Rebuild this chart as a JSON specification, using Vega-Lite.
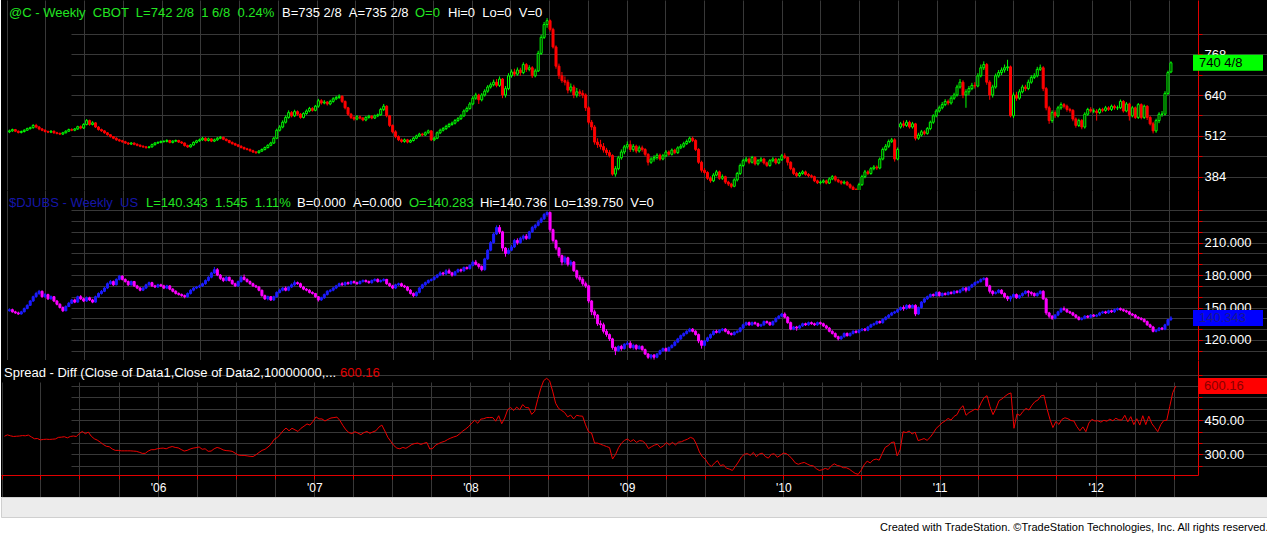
{
"$schema":"https://vega.github.io/schema/vega-lite/v6.json",
"background":"#ffffff",
"padding":0,
"spacing":0,
"bounds":"flush",
"config":{"view":{"stroke":null},"font":"Liberation Sans","concat":{"spacing":0},"axis":{"labelOverlap":false,"labelFlush":false}},
"title":{"text":"Created with TradeStation. ©TradeStation Technologies, Inc. All rights reserved.","orient":"bottom","anchor":"end","font":"Liberation Sans Narrow, Arial Narrow, Liberation Sans","fontSize":11,"fontWeight":"normal","color":"#000000","offset":4},
"datasets":{"w":[
{"d":"2005-01-07","o":525,"h":532,"l":521,"c":528,"O":147,"H":149.3,"L":146.2,"C":148,"s":380},
{"d":"2005-01-14","o":528,"h":535,"l":525,"c":532,"O":148,"H":149,"L":145.2,"C":146,"s":386},
{"d":"2005-01-21","o":532,"h":534,"l":524,"c":527,"O":146,"H":147,"L":144.1,"C":145,"s":382},
{"d":"2005-01-28","o":527,"h":529,"l":520,"c":523,"O":145,"H":146.2,"L":143.2,"C":144,"s":379},
{"d":"2005-02-04","o":523,"h":529,"l":520,"c":526,"O":144,"H":147,"L":143.5,"C":146,"s":380},
{"d":"2005-02-11","o":526,"h":533,"l":523,"c":530,"O":146,"H":150,"L":145.5,"C":149,"s":381},
{"d":"2005-02-18","o":530,"h":538,"l":528,"c":535,"O":149,"H":153,"L":148.4,"C":152,"s":383},
{"d":"2005-02-25","o":535,"h":541,"l":532,"c":538,"O":152,"H":157,"L":151.5,"C":156,"s":382},
{"d":"2005-03-04","o":538,"h":549,"l":535,"c":545,"O":156,"H":161,"L":155.2,"C":160,"s":385},
{"d":"2005-03-11","o":545,"h":550,"l":536,"c":540,"O":160,"H":164.5,"L":159,"C":163,"s":377},
{"d":"2005-03-18","o":540,"h":543,"l":530,"c":534,"O":163,"H":166.3,"L":161.5,"C":165,"s":369},
{"d":"2005-03-25","o":534,"h":537,"l":527,"c":530,"O":165,"H":165.8,"L":159,"C":160,"s":370},
{"d":"2005-04-01","o":530,"h":533,"l":523,"c":526,"O":160,"H":163.5,"L":158.8,"C":162,"s":364},
{"d":"2005-04-08","o":526,"h":529,"l":521,"c":524,"O":162,"H":162.8,"L":157,"C":158,"s":366},
{"d":"2005-04-15","o":524,"h":530,"l":521,"c":527,"O":158,"H":161.2,"L":157.3,"C":160,"s":367},
{"d":"2005-04-22","o":527,"h":529,"l":519,"c":522,"O":160,"H":160.6,"L":155,"C":156,"s":366},
{"d":"2005-04-29","o":522,"h":525,"l":517,"c":520,"O":156,"H":157,"L":152,"C":153,"s":367},
{"d":"2005-05-06","o":520,"h":523,"l":515,"c":518,"O":153,"H":154,"L":149,"C":150,"s":368},
{"d":"2005-05-13","o":518,"h":525,"l":515,"c":522,"O":150,"H":151,"L":145.8,"C":147,"s":375},
{"d":"2005-05-20","o":522,"h":530,"l":520,"c":527,"O":147,"H":152,"L":146.5,"C":151,"s":376},
{"d":"2005-05-27","o":527,"h":535,"l":525,"c":532,"O":151,"H":155.2,"L":150.4,"C":154,"s":378},
{"d":"2005-06-03","o":532,"h":536,"l":527,"c":530,"O":154,"H":158,"L":153.2,"C":157,"s":373},
{"d":"2005-06-10","o":530,"h":537,"l":527,"c":534,"O":157,"H":158.2,"L":154,"C":155,"s":379},
{"d":"2005-06-17","o":534,"h":544,"l":531,"c":541,"O":155,"H":161,"L":154.5,"C":160,"s":381},
{"d":"2005-06-24","o":541,"h":545,"l":533,"c":537,"O":160,"H":161.5,"L":157,"C":158,"s":379},
{"d":"2005-07-01","o":537,"h":552,"l":534,"c":548,"O":158,"H":159,"L":155,"C":156,"s":392},
{"d":"2005-07-08","o":548,"h":565,"l":545,"c":560,"O":156,"H":160.2,"L":155.2,"C":159,"s":401},
{"d":"2005-07-15","o":560,"h":563,"l":544,"c":548,"O":159,"H":160,"L":156,"C":157,"s":391},
{"d":"2005-07-22","o":548,"h":558,"l":545,"c":553,"O":157,"H":158,"L":154,"C":155,"s":398},
{"d":"2005-07-29","o":553,"h":555,"l":537,"c":540,"O":155,"H":161,"L":154.5,"C":160,"s":380},
{"d":"2005-08-05","o":540,"h":543,"l":529,"c":532,"O":160,"H":164,"L":159,"C":163,"s":369},
{"d":"2005-08-12","o":532,"h":535,"l":525,"c":528,"O":163,"H":166.2,"L":162,"C":165,"s":363},
{"d":"2005-08-19","o":528,"h":530,"l":519,"c":522,"O":165,"H":169,"L":164.2,"C":168,"s":354},
{"d":"2005-08-26","o":522,"h":524,"l":513,"c":516,"O":168,"H":173.2,"L":167,"C":172,"s":344},
{"d":"2005-09-02","o":516,"h":518,"l":507,"c":510,"O":172,"H":175.5,"L":171,"C":174,"s":336},
{"d":"2005-09-09","o":510,"h":512,"l":502,"c":505,"O":174,"H":175,"L":170,"C":171,"s":334},
{"d":"2005-09-16","o":505,"h":508,"l":497,"c":500,"O":171,"H":177,"L":170.5,"C":176,"s":324},
{"d":"2005-09-23","o":500,"h":503,"l":494,"c":497,"O":176,"H":180.2,"L":175,"C":179,"s":318},
{"d":"2005-09-30","o":497,"h":500,"l":491,"c":494,"O":179,"H":179.8,"L":175,"C":176,"s":318},
{"d":"2005-10-07","o":494,"h":497,"l":487,"c":490,"O":176,"H":177,"L":173,"C":174,"s":316},
{"d":"2005-10-14","o":490,"h":493,"l":484,"c":487,"O":174,"H":175,"L":170,"C":171,"s":316},
{"d":"2005-10-21","o":487,"h":493,"l":484,"c":490,"O":171,"H":175,"L":170.2,"C":174,"s":316},
{"d":"2005-10-28","o":490,"h":492,"l":483,"c":486,"O":174,"H":174.6,"L":169,"C":170,"s":316},
{"d":"2005-11-04","o":486,"h":489,"l":480,"c":483,"O":170,"H":171,"L":167,"C":168,"s":315},
{"d":"2005-11-11","o":483,"h":486,"l":477,"c":480,"O":168,"H":169,"L":165,"C":166,"s":314},
{"d":"2005-11-18","o":480,"h":483,"l":475,"c":478,"O":166,"H":169,"L":165.2,"C":168,"s":310},
{"d":"2005-11-25","o":478,"h":481,"l":472,"c":476,"O":168,"H":172,"L":167,"C":171,"s":305},
{"d":"2005-12-02","o":476,"h":481,"l":473,"c":478,"O":171,"H":174,"L":170,"C":173,"s":305},
{"d":"2005-12-09","o":478,"h":488,"l":476,"c":485,"O":173,"H":173.8,"L":169,"C":170,"s":315},
{"d":"2005-12-16","o":485,"h":493,"l":482,"c":490,"O":170,"H":171,"L":168,"C":169,"s":321},
{"d":"2005-12-23","o":490,"h":495,"l":487,"c":492,"O":169,"H":172,"L":168.2,"C":171,"s":321},
{"d":"2005-12-30","o":492,"h":498,"l":489,"c":495,"O":171,"H":172,"L":169,"C":170,"s":325},
{"d":"2006-01-06","o":495,"h":499,"l":491,"c":495,"O":170,"H":171,"L":167,"C":168,"s":327},
{"d":"2006-01-13","o":495,"h":502,"l":492,"c":498,"O":168,"H":171,"L":167,"C":170,"s":328},
{"d":"2006-01-20","o":498,"h":500,"l":489,"c":492,"O":170,"H":170.5,"L":166,"C":167,"s":325},
{"d":"2006-01-27","o":492,"h":499,"l":489,"c":496,"O":167,"H":168,"L":164,"C":165,"s":331},
{"d":"2006-02-03","o":496,"h":501,"l":493,"c":498,"O":165,"H":166,"L":162,"C":163,"s":335},
{"d":"2006-02-10","o":498,"h":500,"l":490,"c":493,"O":163,"H":164,"L":161,"C":162,"s":331},
{"d":"2006-02-17","o":493,"h":496,"l":487,"c":490,"O":162,"H":163,"L":160,"C":161,"s":329},
{"d":"2006-02-24","o":490,"h":492,"l":479,"c":482,"O":161,"H":162,"L":158.5,"C":160,"s":322},
{"d":"2006-03-03","o":482,"h":485,"l":475,"c":478,"O":160,"H":164,"L":159,"C":163,"s":315},
{"d":"2006-03-10","o":478,"h":487,"l":476,"c":484,"O":163,"H":167,"L":162,"C":166,"s":318},
{"d":"2006-03-17","o":484,"h":495,"l":482,"c":492,"O":166,"H":169,"L":165,"C":168,"s":324},
{"d":"2006-03-24","o":492,"h":500,"l":489,"c":497,"O":168,"H":170,"L":167,"C":169,"s":328},
{"d":"2006-03-31","o":497,"h":504,"l":494,"c":500,"O":169,"H":171.2,"L":168,"C":170,"s":330},
{"d":"2006-04-07","o":500,"h":509,"l":497,"c":505,"O":170,"H":173,"L":169,"C":172,"s":333},
{"d":"2006-04-14","o":505,"h":508,"l":495,"c":498,"O":172,"H":176,"L":171,"C":175,"s":323},
{"d":"2006-04-21","o":498,"h":507,"l":495,"c":503,"O":175,"H":179,"L":174,"C":178,"s":325},
{"d":"2006-04-28","o":503,"h":505,"l":493,"c":496,"O":178,"H":183,"L":177,"C":182,"s":314},
{"d":"2006-05-05","o":496,"h":504,"l":493,"c":500,"O":182,"H":187.5,"L":181,"C":185,"s":315},
{"d":"2006-05-12","o":500,"h":509,"l":497,"c":505,"O":185,"H":186.5,"L":179,"C":180,"s":325},
{"d":"2006-05-19","o":505,"h":512,"l":502,"c":508,"O":180,"H":181,"L":175.5,"C":177,"s":331},
{"d":"2006-05-26","o":508,"h":510,"l":499,"c":502,"O":177,"H":178,"L":173.5,"C":175,"s":327},
{"d":"2006-06-02","o":502,"h":504,"l":495,"c":498,"O":175,"H":179,"L":174,"C":178,"s":320},
{"d":"2006-06-09","o":498,"h":500,"l":489,"c":492,"O":178,"H":178.5,"L":174,"C":175,"s":317},
{"d":"2006-06-16","o":492,"h":495,"l":485,"c":488,"O":175,"H":176,"L":171,"C":172,"s":316},
{"d":"2006-06-23","o":488,"h":491,"l":481,"c":484,"O":172,"H":173,"L":169,"C":170,"s":314},
{"d":"2006-06-30","o":484,"h":487,"l":477,"c":480,"O":170,"H":175,"L":169,"C":174,"s":306},
{"d":"2006-07-07","o":480,"h":483,"l":473,"c":476,"O":174,"H":179.5,"L":173,"C":178,"s":298},
{"d":"2006-07-14","o":476,"h":479,"l":469,"c":472,"O":178,"H":180.5,"L":175,"C":176,"s":296},
{"d":"2006-07-21","o":472,"h":475,"l":467,"c":470,"O":176,"H":177,"L":173,"C":174,"s":296},
{"d":"2006-07-28","o":470,"h":473,"l":463,"c":466,"O":174,"H":175,"L":171,"C":172,"s":294},
{"d":"2006-08-04","o":466,"h":469,"l":459,"c":462,"O":172,"H":173,"L":169,"C":170,"s":292},
{"d":"2006-08-11","o":462,"h":465,"l":456,"c":460,"O":170,"H":171,"L":168,"C":169,"s":291},
{"d":"2006-08-18","o":460,"h":468,"l":457,"c":465,"O":169,"H":170,"L":165,"C":166,"s":299},
{"d":"2006-08-25","o":465,"h":473,"l":462,"c":470,"O":166,"H":166.5,"L":160,"C":161,"s":309},
{"d":"2006-09-01","o":470,"h":479,"l":467,"c":476,"O":161,"H":162,"L":157,"C":158,"s":318},
{"d":"2006-09-08","o":476,"h":486,"l":473,"c":483,"O":158,"H":161,"L":156.5,"C":160,"s":323},
{"d":"2006-09-15","o":483,"h":494,"l":480,"c":490,"O":160,"H":160.5,"L":156,"C":157,"s":333},
{"d":"2006-09-22","o":490,"h":509,"l":487,"c":505,"O":157,"H":161,"L":156,"C":160,"s":345},
{"d":"2006-09-29","o":505,"h":535,"l":502,"c":530,"O":160,"H":165,"L":159,"C":164,"s":366},
{"d":"2006-10-06","o":530,"h":546,"l":526,"c":540,"O":164,"H":167.5,"L":163,"C":166,"s":374},
{"d":"2006-10-13","o":540,"h":561,"l":536,"c":555,"O":166,"H":169,"L":165,"C":168,"s":387},
{"d":"2006-10-20","o":555,"h":576,"l":551,"c":570,"O":168,"H":169.5,"L":165,"C":166,"s":404},
{"d":"2006-10-27","o":570,"h":592,"l":566,"c":585,"O":166,"H":170,"L":165,"C":169,"s":416},
{"d":"2006-11-03","o":585,"h":590,"l":570,"c":575,"O":169,"H":172.3,"L":168,"C":171,"s":404},
{"d":"2006-11-10","o":575,"h":594,"l":571,"c":588,"O":171,"H":175,"L":170,"C":173,"s":415},
{"d":"2006-11-17","o":588,"h":592,"l":575,"c":580,"O":173,"H":174,"L":171,"C":172,"s":408},
{"d":"2006-11-24","o":580,"h":584,"l":566,"c":570,"O":172,"H":173,"L":168,"C":169,"s":401},
{"d":"2006-12-01","o":570,"h":586,"l":567,"c":582,"O":169,"H":170,"L":166,"C":167,"s":415},
{"d":"2006-12-08","o":582,"h":595,"l":578,"c":590,"O":167,"H":168,"L":165,"C":166,"s":424},
{"d":"2006-12-15","o":590,"h":603,"l":586,"c":598,"O":166,"H":167,"L":163,"C":164,"s":434},
{"d":"2006-12-22","o":598,"h":602,"l":588,"c":592,"O":164,"H":165,"L":162,"C":163,"s":429},
{"d":"2006-12-29","o":592,"h":609,"l":589,"c":605,"O":163,"H":163.5,"L":159,"C":160,"s":445},
{"d":"2007-01-05","o":605,"h":628,"l":600,"c":622,"O":160,"H":160.5,"L":155.5,"C":157,"s":465},
{"d":"2007-01-12","o":622,"h":627,"l":610,"c":615,"O":157,"H":160,"L":156,"C":159,"s":456},
{"d":"2007-01-19","o":615,"h":624,"l":611,"c":618,"O":159,"H":163,"L":158,"C":162,"s":456},
{"d":"2007-01-26","o":618,"h":621,"l":607,"c":612,"O":162,"H":166,"L":161,"C":165,"s":447},
{"d":"2007-02-02","o":612,"h":625,"l":608,"c":620,"O":165,"H":167,"L":164,"C":166,"s":454},
{"d":"2007-02-09","o":620,"h":633,"l":616,"c":628,"O":166,"H":169,"L":165,"C":168,"s":460},
{"d":"2007-02-16","o":628,"h":637,"l":624,"c":632,"O":168,"H":171,"L":167,"C":170,"s":462},
{"d":"2007-02-23","o":632,"h":642,"l":628,"c":636,"O":170,"H":173,"L":169,"C":172,"s":464},
{"d":"2007-03-02","o":636,"h":639,"l":615,"c":620,"O":172,"H":173.5,"L":170,"C":171,"s":449},
{"d":"2007-03-09","o":620,"h":623,"l":595,"c":600,"O":171,"H":174,"L":170,"C":173,"s":427},
{"d":"2007-03-16","o":600,"h":603,"l":575,"c":580,"O":173,"H":174,"L":171,"C":172,"s":408},
{"d":"2007-03-23","o":580,"h":584,"l":565,"c":570,"O":172,"H":175,"L":171,"C":174,"s":396},
{"d":"2007-03-30","o":570,"h":574,"l":560,"c":565,"O":174,"H":175,"L":172,"C":173,"s":392},
{"d":"2007-04-06","o":565,"h":577,"l":561,"c":572,"O":173,"H":174,"L":171,"C":172,"s":400},
{"d":"2007-04-13","o":572,"h":576,"l":564,"c":568,"O":172,"H":175,"L":171.5,"C":174,"s":394},
{"d":"2007-04-20","o":568,"h":571,"l":558,"c":562,"O":174,"H":176,"L":173,"C":175,"s":387},
{"d":"2007-04-27","o":562,"h":574,"l":558,"c":570,"O":175,"H":176,"L":173,"C":174,"s":396},
{"d":"2007-05-04","o":570,"h":578,"l":566,"c":574,"O":174,"H":175,"L":172,"C":173,"s":401},
{"d":"2007-05-11","o":574,"h":577,"l":564,"c":568,"O":173,"H":176,"L":172,"C":175,"s":393},
{"d":"2007-05-18","o":568,"h":579,"l":565,"c":575,"O":175,"H":177,"L":174,"C":176,"s":399},
{"d":"2007-05-25","o":575,"h":582,"l":571,"c":578,"O":176,"H":177,"L":173,"C":174,"s":404},
{"d":"2007-06-01","o":578,"h":600,"l":575,"c":595,"O":174,"H":176,"L":173,"C":175,"s":420},
{"d":"2007-06-08","o":595,"h":612,"l":590,"c":605,"O":175,"H":177,"L":174,"C":176,"s":429},
{"d":"2007-06-15","o":605,"h":608,"l":570,"c":575,"O":176,"H":176.5,"L":171,"C":172,"s":403},
{"d":"2007-06-22","o":575,"h":578,"l":540,"c":545,"O":172,"H":173,"L":169,"C":170,"s":375},
{"d":"2007-06-29","o":545,"h":548,"l":520,"c":525,"O":170,"H":171,"L":167,"C":168,"s":357},
{"d":"2007-07-06","o":525,"h":530,"l":505,"c":510,"O":168,"H":172,"L":167,"C":171,"s":339},
{"d":"2007-07-13","o":510,"h":514,"l":496,"c":500,"O":171,"H":173,"L":170,"C":172,"s":328},
{"d":"2007-07-20","o":500,"h":504,"l":491,"c":495,"O":172,"H":173,"L":169,"C":170,"s":325},
{"d":"2007-07-27","o":495,"h":504,"l":491,"c":500,"O":170,"H":171,"L":168,"C":169,"s":331},
{"d":"2007-08-03","o":500,"h":503,"l":489,"c":493,"O":169,"H":170,"L":165,"C":166,"s":327},
{"d":"2007-08-10","o":493,"h":502,"l":490,"c":498,"O":166,"H":167,"L":162,"C":163,"s":335},
{"d":"2007-08-17","o":498,"h":509,"l":495,"c":505,"O":163,"H":164,"L":159.5,"C":161,"s":344},
{"d":"2007-08-24","o":505,"h":516,"l":502,"c":512,"O":161,"H":165,"L":160,"C":164,"s":348},
{"d":"2007-08-31","o":512,"h":522,"l":509,"c":518,"O":164,"H":169,"L":163,"C":168,"s":350},
{"d":"2007-09-07","o":518,"h":522,"l":511,"c":515,"O":168,"H":172,"L":167,"C":171,"s":344},
{"d":"2007-09-14","o":515,"h":526,"l":512,"c":522,"O":171,"H":174,"L":170,"C":173,"s":349},
{"d":"2007-09-21","o":522,"h":532,"l":519,"c":528,"O":173,"H":176,"L":172,"C":175,"s":353},
{"d":"2007-09-28","o":528,"h":530,"l":496,"c":500,"O":175,"H":177,"L":174,"C":176,"s":324},
{"d":"2007-10-05","o":500,"h":509,"l":496,"c":505,"O":176,"H":179,"L":175,"C":178,"s":327},
{"d":"2007-10-12","o":505,"h":526,"l":502,"c":522,"O":178,"H":181,"L":177,"C":180,"s":342},
{"d":"2007-10-19","o":522,"h":535,"l":518,"c":530,"O":180,"H":183.5,"L":179,"C":182,"s":348},
{"d":"2007-10-26","o":530,"h":540,"l":526,"c":535,"O":182,"H":183,"L":179.5,"C":181,"s":354},
{"d":"2007-11-02","o":535,"h":547,"l":531,"c":542,"O":181,"H":185.5,"L":180,"C":184,"s":358},
{"d":"2007-11-09","o":542,"h":553,"l":538,"c":548,"O":184,"H":186,"L":181,"C":182,"s":366},
{"d":"2007-11-16","o":548,"h":557,"l":544,"c":552,"O":182,"H":183,"L":178.5,"C":180,"s":372},
{"d":"2007-11-23","o":552,"h":565,"l":548,"c":560,"O":180,"H":184,"L":179,"C":183,"s":377},
{"d":"2007-11-30","o":560,"h":571,"l":556,"c":566,"O":183,"H":186,"L":182,"C":185,"s":381},
{"d":"2007-12-07","o":566,"h":580,"l":562,"c":575,"O":185,"H":186,"L":182.5,"C":184,"s":391},
{"d":"2007-12-14","o":575,"h":595,"l":571,"c":590,"O":184,"H":188,"L":183,"C":187,"s":403},
{"d":"2007-12-21","o":590,"h":604,"l":586,"c":598,"O":187,"H":188,"L":185,"C":186,"s":412},
{"d":"2007-12-28","o":598,"h":618,"l":594,"c":612,"O":186,"H":190,"L":185,"C":189,"s":423},
{"d":"2008-01-04","o":612,"h":637,"l":608,"c":630,"O":189,"H":193.5,"L":188,"C":192,"s":438},
{"d":"2008-01-11","o":630,"h":647,"l":625,"c":640,"O":192,"H":194,"L":189,"C":190,"s":450},
{"d":"2008-01-18","o":640,"h":644,"l":612,"c":625,"O":190,"H":191,"L":186,"C":188,"s":437},
{"d":"2008-01-25","o":625,"h":646,"l":620,"c":640,"O":188,"H":189,"L":183.5,"C":185,"s":455},
{"d":"2008-02-01","o":640,"h":658,"l":635,"c":652,"O":185,"H":196,"L":184,"C":195,"s":457},
{"d":"2008-02-08","o":652,"h":671,"l":647,"c":665,"O":195,"H":204,"L":194,"C":203,"s":462},
{"d":"2008-02-15","o":665,"h":679,"l":660,"c":672,"O":203,"H":211.5,"L":202,"C":210,"s":462},
{"d":"2008-02-22","o":672,"h":688,"l":667,"c":680,"O":210,"H":219.5,"L":209,"C":218,"s":462},
{"d":"2008-02-29","o":680,"h":690,"l":664,"c":670,"O":218,"H":226,"L":217,"C":224,"s":446},
{"d":"2008-03-07","o":670,"h":698,"l":665,"c":690,"O":224,"H":226.3,"L":218,"C":220,"s":470},
{"d":"2008-03-14","o":690,"h":693,"l":630,"c":640,"O":220,"H":221,"L":202,"C":205,"s":435},
{"d":"2008-03-21","o":640,"h":668,"l":632,"c":660,"O":205,"H":206,"L":197,"C":200,"s":460},
{"d":"2008-03-28","o":660,"h":708,"l":655,"c":700,"O":200,"H":205,"L":199,"C":203,"s":497},
{"d":"2008-04-04","o":700,"h":720,"l":694,"c":712,"O":203,"H":208,"L":202,"C":206,"s":506},
{"d":"2008-04-11","o":712,"h":722,"l":698,"c":705,"O":206,"H":213.5,"L":205,"C":212,"s":493},
{"d":"2008-04-18","o":705,"h":726,"l":700,"c":718,"O":212,"H":214,"L":208,"C":210,"s":508},
{"d":"2008-04-25","o":718,"h":725,"l":700,"c":710,"O":210,"H":215.5,"L":209,"C":214,"s":496},
{"d":"2008-05-02","o":710,"h":742,"l":705,"c":735,"O":214,"H":217.5,"L":212,"C":216,"s":519},
{"d":"2008-05-09","o":735,"h":740,"l":712,"c":720,"O":216,"H":218,"L":212.5,"C":214,"s":506},
{"d":"2008-05-16","o":720,"h":733,"l":714,"c":725,"O":214,"H":221,"L":213,"C":220,"s":505},
{"d":"2008-05-23","o":725,"h":730,"l":693,"c":700,"O":220,"H":225.5,"L":219,"C":224,"s":476},
{"d":"2008-05-30","o":700,"h":722,"l":695,"c":715,"O":224,"H":227.5,"L":222,"C":226,"s":489},
{"d":"2008-06-06","o":715,"h":778,"l":712,"c":770,"O":226,"H":231,"L":225,"C":229,"s":541},
{"d":"2008-06-13","o":770,"h":828,"l":765,"c":820,"O":229,"H":233.5,"L":228,"C":232,"s":588},
{"d":"2008-06-20","o":820,"h":868,"l":815,"c":860,"O":232,"H":237.5,"L":231,"C":236,"s":624},
{"d":"2008-06-27","o":860,"h":880,"l":850,"c":872,"O":236,"H":239,"L":234,"C":238,"s":634},
{"d":"2008-07-04","o":872,"h":876,"l":838,"c":845,"O":238,"H":238.6,"L":220,"C":222,"s":623},
{"d":"2008-07-11","o":845,"h":850,"l":785,"c":790,"O":222,"H":223,"L":210,"C":212,"s":578},
{"d":"2008-07-18","o":790,"h":795,"l":722,"c":730,"O":212,"H":213,"L":203,"C":205,"s":525},
{"d":"2008-07-25","o":730,"h":738,"l":690,"c":700,"O":205,"H":206,"L":196,"C":198,"s":502},
{"d":"2008-08-01","o":700,"h":712,"l":678,"c":685,"O":198,"H":199,"L":189,"C":192,"s":493},
{"d":"2008-08-08","o":685,"h":698,"l":670,"c":680,"O":192,"H":198,"L":190,"C":196,"s":484},
{"d":"2008-08-15","o":680,"h":688,"l":645,"c":655,"O":196,"H":197,"L":188,"C":190,"s":465},
{"d":"2008-08-22","o":655,"h":676,"l":648,"c":665,"O":190,"H":194,"L":188,"C":192,"s":473},
{"d":"2008-08-29","o":665,"h":672,"l":630,"c":640,"O":192,"H":193,"L":183,"C":184,"s":456},
{"d":"2008-09-05","o":640,"h":662,"l":632,"c":650,"O":184,"H":185,"L":176,"C":178,"s":472},
{"d":"2008-09-12","o":650,"h":658,"l":635,"c":645,"O":178,"H":180,"L":174,"C":176,"s":469},
{"d":"2008-09-19","o":645,"h":655,"l":630,"c":640,"O":176,"H":178,"L":170,"C":172,"s":468},
{"d":"2008-09-26","o":640,"h":645,"l":590,"c":600,"O":172,"H":174,"L":168,"C":170,"s":430},
{"d":"2008-10-03","o":600,"h":605,"l":548,"c":555,"O":170,"H":171,"L":154,"C":156,"s":399},
{"d":"2008-10-10","o":555,"h":562,"l":530,"c":540,"O":156,"H":157,"L":143,"C":146,"s":394},
{"d":"2008-10-17","o":540,"h":546,"l":485,"c":493,"O":146,"H":148,"L":140,"C":143,"s":350},
{"d":"2008-10-24","o":493,"h":505,"l":475,"c":485,"O":143,"H":144,"L":133,"C":135,"s":350},
{"d":"2008-10-31","o":485,"h":500,"l":470,"c":479,"O":135,"H":138,"L":131,"C":134,"s":345},
{"d":"2008-11-07","o":479,"h":490,"l":460,"c":468,"O":134,"H":136,"L":126,"C":128,"s":340},
{"d":"2008-11-14","o":468,"h":475,"l":452,"c":460,"O":128,"H":130,"L":123,"C":125,"s":335},
{"d":"2008-11-21","o":460,"h":468,"l":445,"c":451,"O":125,"H":126,"L":119,"C":121,"s":330},
{"d":"2008-11-28","o":451,"h":455,"l":388,"c":393,"O":121,"H":122,"L":111,"C":113,"s":280},
{"d":"2008-12-05","o":393,"h":418,"l":385,"c":410,"O":113,"H":114,"L":106,"C":110,"s":300},
{"d":"2008-12-12","o":410,"h":450,"l":405,"c":444,"O":110,"H":115,"L":109,"C":114,"s":330},
{"d":"2008-12-19","o":444,"h":470,"l":438,"c":462,"O":114,"H":115.5,"L":110,"C":112,"s":350},
{"d":"2008-12-26","o":462,"h":484,"l":455,"c":478,"O":112,"H":117,"L":111,"C":116,"s":362},
{"d":"2009-01-02","o":478,"h":495,"l":472,"c":485,"O":116,"H":119,"L":115,"C":117,"s":368},
{"d":"2009-01-09","o":485,"h":498,"l":462,"c":470,"O":117,"H":119,"L":112,"C":113,"s":357},
{"d":"2009-01-16","o":470,"h":487,"l":463,"c":480,"O":113,"H":116.5,"L":111,"C":115,"s":365},
{"d":"2009-01-23","o":480,"h":485,"l":458,"c":465,"O":115,"H":116,"L":110.5,"C":112,"s":353},
{"d":"2009-01-30","o":465,"h":482,"l":460,"c":475,"O":112,"H":115.5,"L":111,"C":114,"s":361},
{"d":"2009-02-06","o":475,"h":482,"l":463,"c":470,"O":114,"H":115,"L":110,"C":111,"s":359},
{"d":"2009-02-13","o":470,"h":474,"l":448,"c":455,"O":111,"H":112,"L":106,"C":107,"s":348},
{"d":"2009-02-20","o":455,"h":458,"l":420,"c":430,"O":107,"H":108,"L":102.5,"C":104,"s":326},
{"d":"2009-02-27","o":430,"h":446,"l":425,"c":440,"O":104,"H":107,"L":102,"C":106,"s":334},
{"d":"2009-03-06","o":440,"h":452,"l":432,"c":445,"O":106,"H":107,"L":101.8,"C":104,"s":341},
{"d":"2009-03-13","o":445,"h":458,"l":438,"c":452,"O":104,"H":108,"L":103,"C":107,"s":345},
{"d":"2009-03-20","o":452,"h":457,"l":435,"c":440,"O":107,"H":111,"L":106,"C":110,"s":330},
{"d":"2009-03-27","o":440,"h":456,"l":436,"c":450,"O":110,"H":113,"L":109,"C":112,"s":338},
{"d":"2009-04-03","o":450,"h":468,"l":446,"c":462,"O":112,"H":113,"L":109,"C":110,"s":352},
{"d":"2009-04-10","o":462,"h":467,"l":450,"c":455,"O":110,"H":114,"L":109,"C":113,"s":342},
{"d":"2009-04-17","o":455,"h":473,"l":451,"c":468,"O":113,"H":116,"L":112,"C":115,"s":353},
{"d":"2009-04-24","o":468,"h":472,"l":455,"c":460,"O":115,"H":119,"L":114,"C":118,"s":342},
{"d":"2009-05-01","o":460,"h":480,"l":456,"c":475,"O":118,"H":122,"L":117,"C":121,"s":354},
{"d":"2009-05-08","o":475,"h":487,"l":471,"c":480,"O":121,"H":125,"L":120,"C":124,"s":356},
{"d":"2009-05-15","o":480,"h":494,"l":475,"c":488,"O":124,"H":127,"L":123,"C":126,"s":362},
{"d":"2009-05-22","o":488,"h":501,"l":484,"c":495,"O":126,"H":129,"L":125,"C":128,"s":367},
{"d":"2009-05-29","o":495,"h":510,"l":490,"c":505,"O":128,"H":131.2,"L":127,"C":130,"s":375},
{"d":"2009-06-05","o":505,"h":510,"l":493,"c":498,"O":130,"H":131,"L":127,"C":128,"s":370},
{"d":"2009-06-12","o":498,"h":502,"l":465,"c":470,"O":128,"H":129,"L":124,"C":125,"s":345},
{"d":"2009-06-19","o":470,"h":474,"l":425,"c":430,"O":125,"H":126,"L":117,"C":119,"s":311},
{"d":"2009-06-26","o":430,"h":435,"l":398,"c":405,"O":119,"H":120,"L":112,"C":115,"s":290},
{"d":"2009-07-03","o":405,"h":412,"l":392,"c":398,"O":115,"H":120,"L":114,"C":119,"s":279},
{"d":"2009-07-10","o":398,"h":402,"l":375,"c":380,"O":119,"H":123,"L":118,"C":122,"s":258},
{"d":"2009-07-17","o":380,"h":386,"l":366,"c":372,"O":122,"H":126,"L":121,"C":125,"s":247},
{"d":"2009-07-24","o":372,"h":396,"l":368,"c":390,"O":125,"H":129,"L":124,"C":128,"s":262},
{"d":"2009-07-31","o":390,"h":406,"l":386,"c":400,"O":128,"H":129.5,"L":126,"C":127,"s":273},
{"d":"2009-08-07","o":400,"h":404,"l":375,"c":380,"O":127,"H":130,"L":126,"C":129,"s":251},
{"d":"2009-08-14","o":380,"h":392,"l":375,"c":385,"O":129,"H":131,"L":128,"C":130,"s":255},
{"d":"2009-08-21","o":385,"h":388,"l":362,"c":368,"O":130,"H":131,"L":127,"C":128,"s":240},
{"d":"2009-08-28","o":368,"h":372,"l":356,"c":362,"O":128,"H":129,"L":125,"C":126,"s":236},
{"d":"2009-09-04","o":362,"h":366,"l":349,"c":355,"O":126,"H":127,"L":124,"C":125,"s":230},
{"d":"2009-09-11","o":355,"h":380,"l":352,"c":375,"O":125,"H":128,"L":124,"C":127,"s":248},
{"d":"2009-09-18","o":375,"h":400,"l":370,"c":395,"O":127,"H":129,"L":126,"C":128,"s":267},
{"d":"2009-09-25","o":395,"h":426,"l":390,"c":420,"O":128,"H":132,"L":127,"C":131,"s":289},
{"d":"2009-10-02","o":420,"h":441,"l":415,"c":435,"O":131,"H":135,"L":130,"C":134,"s":301},
{"d":"2009-10-09","o":435,"h":447,"l":430,"c":440,"O":134,"H":137,"L":133,"C":136,"s":304},
{"d":"2009-10-16","o":440,"h":445,"l":424,"c":430,"O":136,"H":137,"L":133,"C":134,"s":296},
{"d":"2009-10-23","o":430,"h":450,"l":426,"c":445,"O":134,"H":137,"L":133,"C":136,"s":309},
{"d":"2009-10-30","o":445,"h":448,"l":420,"c":425,"O":136,"H":137,"L":134,"C":135,"s":290},
{"d":"2009-11-06","o":425,"h":440,"l":420,"c":435,"O":135,"H":136,"L":132,"C":133,"s":302},
{"d":"2009-11-13","o":435,"h":446,"l":430,"c":440,"O":133,"H":135,"L":132,"C":134,"s":306},
{"d":"2009-11-20","o":440,"h":444,"l":423,"c":428,"O":134,"H":138,"L":133,"C":137,"s":291},
{"d":"2009-11-27","o":428,"h":432,"l":415,"c":420,"O":137,"H":138,"L":135,"C":136,"s":284},
{"d":"2009-12-04","o":420,"h":440,"l":416,"c":435,"O":136,"H":137,"L":133,"C":134,"s":301},
{"d":"2009-12-11","o":435,"h":446,"l":430,"c":440,"O":134,"H":138,"L":133,"C":137,"s":303},
{"d":"2009-12-18","o":440,"h":444,"l":423,"c":428,"O":137,"H":141,"L":136,"C":140,"s":288},
{"d":"2009-12-25","o":428,"h":443,"l":424,"c":438,"O":140,"H":143,"L":139,"C":142,"s":296},
{"d":"2010-01-01","o":438,"h":456,"l":434,"c":450,"O":142,"H":145,"L":141,"C":144,"s":306},
{"d":"2010-01-08","o":450,"h":458,"l":440,"c":445,"O":144,"H":145.5,"L":140,"C":141,"s":304},
{"d":"2010-01-15","o":445,"h":448,"l":420,"c":430,"O":141,"H":142,"L":135,"C":136,"s":294},
{"d":"2010-01-22","o":430,"h":433,"l":405,"c":410,"O":136,"H":137,"L":129,"C":130,"s":280},
{"d":"2010-01-29","o":410,"h":414,"l":390,"c":395,"O":130,"H":133,"L":129,"C":132,"s":263},
{"d":"2010-02-05","o":395,"h":400,"l":383,"c":388,"O":132,"H":133,"L":128.5,"C":131,"s":257},
{"d":"2010-02-12","o":388,"h":400,"l":384,"c":395,"O":131,"H":134,"L":130,"C":133,"s":262},
{"d":"2010-02-19","o":395,"h":405,"l":391,"c":400,"O":133,"H":136,"L":132,"C":135,"s":265},
{"d":"2010-02-26","o":400,"h":404,"l":388,"c":392,"O":135,"H":136,"L":133,"C":134,"s":258},
{"d":"2010-03-05","o":392,"h":396,"l":383,"c":388,"O":134,"H":137,"L":133,"C":136,"s":252},
{"d":"2010-03-12","o":388,"h":392,"l":380,"c":385,"O":136,"H":137,"L":134,"C":135,"s":250},
{"d":"2010-03-19","o":385,"h":388,"l":368,"c":372,"O":135,"H":136,"L":133,"C":134,"s":238},
{"d":"2010-03-26","o":372,"h":376,"l":362,"c":366,"O":134,"H":137,"L":133,"C":136,"s":230},
{"d":"2010-04-02","o":366,"h":373,"l":361,"c":368,"O":136,"H":137,"L":134,"C":135,"s":233},
{"d":"2010-04-09","o":368,"h":377,"l":364,"c":372,"O":135,"H":136,"L":132,"C":133,"s":239},
{"d":"2010-04-16","o":372,"h":376,"l":361,"c":365,"O":133,"H":134,"L":130,"C":131,"s":234},
{"d":"2010-04-23","o":365,"h":383,"l":362,"c":378,"O":131,"H":132,"L":127,"C":128,"s":250},
{"d":"2010-04-30","o":378,"h":390,"l":374,"c":385,"O":128,"H":129,"L":125,"C":126,"s":259},
{"d":"2010-05-07","o":385,"h":389,"l":370,"c":375,"O":126,"H":127,"L":122,"C":123,"s":252},
{"d":"2010-05-14","o":375,"h":379,"l":365,"c":370,"O":123,"H":124,"L":119.5,"C":121,"s":249},
{"d":"2010-05-21","o":370,"h":374,"l":360,"c":365,"O":121,"H":124,"L":120,"C":123,"s":242},
{"d":"2010-05-28","o":365,"h":373,"l":361,"c":368,"O":123,"H":127,"L":122,"C":126,"s":242},
{"d":"2010-06-04","o":368,"h":372,"l":356,"c":360,"O":126,"H":127,"L":123,"C":124,"s":236},
{"d":"2010-06-11","o":360,"h":364,"l":347,"c":352,"O":124,"H":127,"L":123,"C":126,"s":226},
{"d":"2010-06-18","o":352,"h":357,"l":340,"c":345,"O":126,"H":129,"L":125,"C":128,"s":217},
{"d":"2010-06-25","o":345,"h":350,"l":334,"c":340,"O":128,"H":129,"L":126,"C":127,"s":213},
{"d":"2010-07-02","o":340,"h":366,"l":336,"c":360,"O":127,"H":130,"L":126,"C":129,"s":231},
{"d":"2010-07-09","o":360,"h":391,"l":356,"c":385,"O":129,"H":131,"L":128,"C":130,"s":255},
{"d":"2010-07-16","o":385,"h":406,"l":380,"c":400,"O":130,"H":131,"L":128,"C":129,"s":271},
{"d":"2010-07-23","o":400,"h":405,"l":390,"c":395,"O":129,"H":133,"L":128,"C":132,"s":263},
{"d":"2010-07-30","o":395,"h":415,"l":391,"c":410,"O":132,"H":135,"L":131,"C":134,"s":276},
{"d":"2010-08-06","o":410,"h":421,"l":405,"c":415,"O":134,"H":136,"L":133,"C":135,"s":280},
{"d":"2010-08-13","o":415,"h":420,"l":406,"c":412,"O":135,"H":138,"L":134,"C":137,"s":275},
{"d":"2010-08-20","o":412,"h":445,"l":408,"c":440,"O":137,"H":138,"L":135,"C":136,"s":304},
{"d":"2010-08-27","o":440,"h":476,"l":436,"c":470,"O":136,"H":140,"L":135,"C":139,"s":331},
{"d":"2010-09-03","o":470,"h":487,"l":465,"c":480,"O":139,"H":142,"L":138,"C":141,"s":339},
{"d":"2010-09-10","o":480,"h":501,"l":475,"c":495,"O":141,"H":144,"L":140,"C":143,"s":352},
{"d":"2010-09-17","o":495,"h":506,"l":490,"c":500,"O":143,"H":146,"L":142,"C":145,"s":355},
{"d":"2010-09-24","o":500,"h":505,"l":432,"c":440,"O":145,"H":147,"L":144,"C":146,"s":294},
{"d":"2010-10-01","o":440,"h":476,"l":436,"c":470,"O":146,"H":149,"L":145,"C":148,"s":322},
{"d":"2010-10-08","o":540,"h":556,"l":535,"c":550,"O":148,"H":151,"L":147,"C":150,"s":400},
{"d":"2010-10-15","o":550,"h":560,"l":538,"c":545,"O":150,"H":152,"L":147,"C":149,"s":396},
{"d":"2010-10-22","o":545,"h":562,"l":540,"c":555,"O":149,"H":153,"L":148,"C":152,"s":403},
{"d":"2010-10-29","o":555,"h":560,"l":535,"c":540,"O":152,"H":153,"L":149,"C":150,"s":390},
{"d":"2010-11-05","o":540,"h":556,"l":535,"c":550,"O":150,"H":153,"L":149,"C":152,"s":398},
{"d":"2010-11-12","o":550,"h":553,"l":498,"c":505,"O":152,"H":153,"L":142,"C":144,"s":361},
{"d":"2010-11-19","o":505,"h":522,"l":500,"c":515,"O":144,"H":151,"L":143,"C":150,"s":365},
{"d":"2010-11-26","o":515,"h":531,"l":510,"c":525,"O":150,"H":156,"L":149,"C":155,"s":370},
{"d":"2010-12-03","o":525,"h":530,"l":514,"c":520,"O":155,"H":159,"L":154,"C":158,"s":362},
{"d":"2010-12-10","o":520,"h":540,"l":516,"c":535,"O":158,"H":161,"L":157,"C":160,"s":375},
{"d":"2010-12-17","o":535,"h":560,"l":530,"c":555,"O":160,"H":163,"L":159,"C":162,"s":393},
{"d":"2010-12-24","o":555,"h":580,"l":550,"c":575,"O":162,"H":163,"L":160,"C":161,"s":414},
{"d":"2010-12-31","o":575,"h":596,"l":570,"c":590,"O":161,"H":165,"L":160,"C":164,"s":426},
{"d":"2011-01-07","o":590,"h":607,"l":585,"c":600,"O":164,"H":165,"L":160,"C":161,"s":439},
{"d":"2011-01-14","o":600,"h":618,"l":595,"c":610,"O":161,"H":164,"L":160,"C":163,"s":447},
{"d":"2011-01-21","o":610,"h":627,"l":605,"c":620,"O":163,"H":164,"L":161,"C":162,"s":458},
{"d":"2011-01-28","o":620,"h":626,"l":608,"c":615,"O":162,"H":165,"L":161,"C":164,"s":451},
{"d":"2011-02-04","o":615,"h":637,"l":610,"c":630,"O":164,"H":165,"L":162,"C":163,"s":467},
{"d":"2011-02-11","o":630,"h":647,"l":625,"c":640,"O":163,"H":166,"L":162,"C":165,"s":475},
{"d":"2011-02-18","o":640,"h":672,"l":635,"c":665,"O":165,"H":166,"L":163,"C":164,"s":501},
{"d":"2011-02-25","o":665,"h":690,"l":660,"c":680,"O":164,"H":167,"L":163,"C":166,"s":514},
{"d":"2011-03-04","o":680,"h":686,"l":630,"c":640,"O":166,"H":169,"L":165,"C":168,"s":472},
{"d":"2011-03-11","o":640,"h":658,"l":600,"c":650,"O":168,"H":169,"L":164,"C":166,"s":484},
{"d":"2011-03-18","o":650,"h":668,"l":640,"c":660,"O":166,"H":170,"L":165,"C":169,"s":491},
{"d":"2011-03-25","o":660,"h":678,"l":655,"c":670,"O":169,"H":172,"L":168,"C":171,"s":499},
{"d":"2011-04-01","o":670,"h":680,"l":660,"c":668,"O":171,"H":174,"L":170,"C":173,"s":495},
{"d":"2011-04-08","o":668,"h":708,"l":664,"c":700,"O":173,"H":175,"L":172,"C":174,"s":526},
{"d":"2011-04-15","o":700,"h":735,"l":695,"c":725,"O":174,"H":177,"L":173,"C":176,"s":549},
{"d":"2011-04-22","o":725,"h":745,"l":718,"c":735,"O":176,"H":178,"L":175,"C":177,"s":558},
{"d":"2011-04-29","o":735,"h":740,"l":672,"c":680,"O":177,"H":178,"L":169,"C":170,"s":510},
{"d":"2011-05-06","o":680,"h":686,"l":625,"c":640,"O":170,"H":171,"L":163,"C":165,"s":475},
{"d":"2011-05-13","o":640,"h":672,"l":632,"c":665,"O":165,"H":166,"L":161,"C":163,"s":502},
{"d":"2011-05-20","o":665,"h":707,"l":660,"c":700,"O":163,"H":165,"L":162,"C":164,"s":536},
{"d":"2011-05-27","o":700,"h":718,"l":694,"c":710,"O":164,"H":167,"L":163,"C":166,"s":544},
{"d":"2011-06-03","o":710,"h":726,"l":702,"c":718,"O":166,"H":167,"L":162,"C":163,"s":555},
{"d":"2011-06-10","o":718,"h":735,"l":710,"c":725,"O":163,"H":164,"L":158.5,"C":160,"s":565},
{"d":"2011-06-17","o":725,"h":750,"l":715,"c":728,"O":160,"H":161,"L":156,"C":158,"s":570},
{"d":"2011-06-24","o":728,"h":732,"l":570,"c":575,"O":158,"H":161,"L":155.5,"C":160,"s":415},
{"d":"2011-07-01","o":575,"h":648,"l":568,"c":640,"O":160,"H":163,"L":159,"C":162,"s":478},
{"d":"2011-07-08","o":640,"h":650,"l":622,"c":630,"O":162,"H":163,"L":158,"C":159,"s":471},
{"d":"2011-07-15","o":630,"h":658,"l":625,"c":650,"O":159,"H":162,"L":158,"C":161,"s":489},
{"d":"2011-07-22","o":650,"h":672,"l":645,"c":665,"O":161,"H":164,"L":160,"C":163,"s":502},
{"d":"2011-07-29","o":665,"h":672,"l":652,"c":660,"O":163,"H":166,"L":162,"C":165,"s":495},
{"d":"2011-08-05","o":660,"h":688,"l":655,"c":680,"O":165,"H":166,"L":160,"C":164,"s":516},
{"d":"2011-08-12","o":680,"h":702,"l":675,"c":695,"O":164,"H":165,"L":161,"C":163,"s":532},
{"d":"2011-08-19","o":695,"h":708,"l":690,"c":700,"O":163,"H":164,"L":160,"C":161,"s":539},
{"d":"2011-08-26","o":700,"h":728,"l":695,"c":720,"O":161,"H":164,"L":160,"C":163,"s":557},
{"d":"2011-09-02","o":720,"h":735,"l":715,"c":725,"O":163,"H":166,"L":162,"C":165,"s":560},
{"d":"2011-09-09","o":725,"h":730,"l":652,"c":660,"O":165,"H":166,"L":157,"C":158,"s":502},
{"d":"2011-09-16","o":660,"h":665,"l":592,"c":600,"O":158,"H":159,"L":143,"C":145,"s":455},
{"d":"2011-09-23","o":600,"h":606,"l":550,"c":560,"O":145,"H":146,"L":140,"C":142,"s":418},
{"d":"2011-09-30","o":560,"h":592,"l":553,"c":585,"O":142,"H":143,"L":138.5,"C":140,"s":445},
{"d":"2011-10-07","o":585,"h":592,"l":568,"c":575,"O":140,"H":144,"L":139,"C":143,"s":432},
{"d":"2011-10-14","o":575,"h":606,"l":570,"c":600,"O":143,"H":147,"L":142,"C":146,"s":454},
{"d":"2011-10-21","o":600,"h":617,"l":594,"c":610,"O":146,"H":150,"L":145,"C":149,"s":461},
{"d":"2011-10-28","o":610,"h":615,"l":598,"c":605,"O":149,"H":151,"L":147,"C":148,"s":457},
{"d":"2011-11-04","o":605,"h":610,"l":588,"c":595,"O":148,"H":149,"L":145,"C":146,"s":449},
{"d":"2011-11-11","o":595,"h":600,"l":585,"c":592,"O":146,"H":147,"L":144,"C":145,"s":447},
{"d":"2011-11-18","o":592,"h":596,"l":558,"c":565,"O":145,"H":146,"L":142,"C":143,"s":422},
{"d":"2011-11-25","o":565,"h":570,"l":538,"c":545,"O":143,"H":144,"L":140,"C":141,"s":404},
{"d":"2011-12-02","o":545,"h":566,"l":540,"c":560,"O":141,"H":142,"L":138,"C":139,"s":421},
{"d":"2011-12-09","o":560,"h":565,"l":533,"c":540,"O":139,"H":141,"L":138,"C":140,"s":400},
{"d":"2011-12-16","o":540,"h":586,"l":535,"c":580,"O":140,"H":143,"L":139,"C":142,"s":438},
{"d":"2011-12-23","o":580,"h":600,"l":575,"c":595,"O":142,"H":143,"L":140,"C":141,"s":454},
{"d":"2011-12-30","o":595,"h":602,"l":585,"c":590,"O":141,"H":144,"L":140,"C":143,"s":447},
{"d":"2012-01-06","o":590,"h":598,"l":583,"c":590,"O":143,"H":144,"L":141,"C":142,"s":448},
{"d":"2012-01-13","o":590,"h":596,"l":560,"c":585,"O":142,"H":144,"L":141,"C":143,"s":442},
{"d":"2012-01-20","o":585,"h":600,"l":580,"c":595,"O":143,"H":146,"L":142,"C":145,"s":450},
{"d":"2012-01-27","o":595,"h":600,"l":586,"c":592,"O":145,"H":147,"L":144,"C":146,"s":446},
{"d":"2012-02-03","o":592,"h":606,"l":588,"c":600,"O":146,"H":147,"L":144,"C":145,"s":455},
{"d":"2012-02-10","o":600,"h":605,"l":590,"c":595,"O":145,"H":148,"L":144,"C":147,"s":448},
{"d":"2012-02-17","o":595,"h":610,"l":590,"c":605,"O":147,"H":148,"L":145,"C":146,"s":459},
{"d":"2012-02-24","o":605,"h":610,"l":594,"c":600,"O":146,"H":149,"L":145,"C":148,"s":452},
{"d":"2012-03-02","o":600,"h":607,"l":593,"c":600,"O":148,"H":150,"L":147,"C":149,"s":451},
{"d":"2012-03-09","o":600,"h":626,"l":596,"c":620,"O":149,"H":150,"L":147,"C":148,"s":472},
{"d":"2012-03-16","o":620,"h":624,"l":585,"c":590,"O":148,"H":149,"L":146,"C":147,"s":443},
{"d":"2012-03-23","o":590,"h":618,"l":586,"c":612,"O":147,"H":148,"L":145,"C":146,"s":466},
{"d":"2012-03-30","o":612,"h":616,"l":560,"c":575,"O":146,"H":147,"L":143,"C":144,"s":431},
{"d":"2012-04-06","o":575,"h":606,"l":570,"c":600,"O":144,"H":145,"L":142,"C":143,"s":457},
{"d":"2012-04-13","o":600,"h":604,"l":565,"c":570,"O":143,"H":144,"L":140,"C":141,"s":429},
{"d":"2012-04-20","o":570,"h":615,"l":565,"c":610,"O":141,"H":142,"L":139,"C":140,"s":470},
{"d":"2012-04-27","o":610,"h":614,"l":564,"c":570,"O":140,"H":141,"L":138,"C":139,"s":431},
{"d":"2012-05-04","o":570,"h":610,"l":565,"c":605,"O":139,"H":140,"L":136,"C":137,"s":468},
{"d":"2012-05-11","o":605,"h":608,"l":562,"c":570,"O":137,"H":138,"L":133,"C":134,"s":436},
{"d":"2012-05-18","o":570,"h":575,"l":545,"c":550,"O":134,"H":135,"L":131,"C":132,"s":418},
{"d":"2012-05-25","o":550,"h":556,"l":520,"c":528,"O":132,"H":133,"L":127,"C":128,"s":400},
{"d":"2012-06-01","o":528,"h":566,"l":522,"c":560,"O":128,"H":130,"L":127,"C":129,"s":431},
{"d":"2012-06-08","o":560,"h":586,"l":552,"c":580,"O":129,"H":132,"L":128,"C":131,"s":449},
{"d":"2012-06-15","o":580,"h":590,"l":572,"c":580,"O":131,"H":132,"L":129,"C":130,"s":450},
{"d":"2012-06-22","o":580,"h":652,"l":576,"c":645,"O":130,"H":135,"L":129,"C":134,"s":511},
{"d":"2012-06-29","o":645,"h":716,"l":640,"c":710,"O":134,"H":139.5,"L":133,"C":138.8,"s":571.2},
{"d":"2012-07-06","o":712,"h":745,"l":708,"c":740.5,"O":138.8,"H":142,"L":137.5,"C":140.343,"s":600.16}
]},
"vconcat":[
{
"width":1267,"height":190,
"view":{"fill":"#000000","stroke":null},
"data":{"name":"w"},
"resolve":{"axis":{"y":"independent"}},
"layer":[
{"mark":{"type":"rule","strokeWidth":1},
 "encoding":{
  "x":{"field":"d","type":"temporal","scale":{"domain":[{"year":2004,"month":12,"date":30},{"year":2012,"month":8,"date":27}],"range":[0,1197]},
       "axis":{"orient":"bottom","grid":true,"gridColor":"#383838","labels":false,"ticks":false,"domain":false,"title":null,"tickCount":{"interval":"month","step":3}}},
  "y":{"field":"l","type":"quantitative","scale":{"domain":[343.4,936.6],"nice":false,"zero":false},
       "axis":{"orient":"right","offset":-70,"values":[384,512,640,768],"format":"d","grid":false,"domainColor":"#e00000","tickColor":"#e00000","tickSize":4,"labelColor":"#ffffff","labelFont":"Liberation Sans","labelFontSize":13,"labelPadding":2,"labelOverlap":false,"title":null}},
  "y2":{"field":"h"},
  "color":{"condition":{"test":"datum.c >= datum.o","value":"#00ff00"},"value":"#ff0000"}}},
{"mark":{"type":"bar","size":2,"strokeWidth":1},
 "encoding":{
  "x":{"field":"d","type":"temporal"},
  "y":{"field":"o","type":"quantitative","axis":{"orient":"right","offset":-70,"values":[384,448,512,576,640,704,768,832],"labels":false,"domain":false,"grid":true,"gridColor":"#383838","tickColor":"#e00000","tickSize":4,"title":null}},
  "y2":{"field":"c"},
  "fill":{"condition":{"test":"datum.c >= datum.o","value":"#000000"},"value":"#ff0000"},
  "stroke":{"condition":{"test":"datum.c >= datum.o","value":"#00ff00"},"value":"#ff0000"}}},
{"data":{"values":[{}]},
 "encoding":{"x":{"datum":{"year":2004,"month":12,"date":30},"type":"temporal"},"y":{"datum":936.6,"type":"quantitative","axis":null}},
 "layer":[
  {"mark":{"type":"text","text":"@C - Weekly \u00a0CBOT \u00a0L=742 2/8 \u00a01 6/8 \u00a00.24%","align":"left","baseline":"alphabetic","dx":3,"dy":16.7,"font":"Liberation Sans","fontSize":13,"color":"#22e622"}},
  {"mark":{"type":"text","text":"B=735 2/8 \u00a0A=735 2/8","align":"left","baseline":"alphabetic","dx":276,"dy":16.7,"font":"Liberation Sans","fontSize":13,"color":"#ffffff"}},
  {"mark":{"type":"text","text":"O=0","align":"left","baseline":"alphabetic","dx":409,"dy":16.7,"font":"Liberation Sans","fontSize":13,"color":"#22e622"}},
  {"mark":{"type":"text","text":"Hi=0 \u00a0Lo=0 \u00a0V=0","align":"left","baseline":"alphabetic","dx":442,"dy":16.7,"font":"Liberation Sans","fontSize":13,"color":"#ffffff"}}
 ]},
{"data":{"values":[{"v":740.5,"t":"740 4/8"}]},
 "encoding":{"x":{"datum":{"year":2012,"month":8,"date":27},"type":"temporal"},"y":{"field":"v","type":"quantitative","axis":null}},
 "layer":[
  {"mark":{"type":"point","shape":"M0,-1H8.75V1H0Z","size":256,"filled":true,"color":"#00ff00","opacity":1,"strokeWidth":0}},
  {"mark":{"type":"text","align":"left","baseline":"middle","dx":6,"font":"Liberation Sans","fontSize":13,"color":"#000000"},"encoding":{"text":{"field":"t"}}}
 ]}
]},
{
"width":1267,"height":170,
"view":{"fill":"#000000","stroke":null},
"data":{"name":"w"},
"resolve":{"axis":{"y":"independent"}},
"layer":[
{"mark":{"type":"rule","strokeWidth":1},
 "encoding":{
  "x":{"field":"d","type":"temporal","scale":{"domain":[{"year":2004,"month":12,"date":30},{"year":2012,"month":8,"date":27}],"range":[0,1197]},
       "axis":{"orient":"bottom","grid":true,"gridColor":"#383838","labels":false,"ticks":false,"domain":false,"title":null,"tickCount":{"interval":"month","step":3}}},
  "y":{"field":"L","type":"quantitative","scale":{"domain":[101.45,258.7],"nice":false,"zero":false},
       "axis":{"orient":"right","offset":-70,"values":[120,150,180,210],"format":".3f","grid":false,"domainColor":"#e00000","tickColor":"#e00000","tickSize":4,"labelColor":"#ffffff","labelFont":"Liberation Sans","labelFontSize":13,"labelPadding":2,"labelOverlap":false,"title":null}},
  "y2":{"field":"H"},
  "color":{"condition":{"test":"datum.C >= datum.O","value":"#1c1cff"},"value":"#ff00ff"}}},
{"mark":{"type":"bar","size":2,"strokeWidth":1},
 "encoding":{
  "x":{"field":"d","type":"temporal"},
  "y":{"field":"O","type":"quantitative","axis":{"orient":"right","offset":-70,"values":[110,120,130,140,150,160,170,180,190,200,210,220,230,240],"labels":false,"domain":false,"grid":true,"gridColor":"#383838","tickColor":"#e00000","tickSize":4,"title":null}},
  "y2":{"field":"C"},
  "fill":{"condition":{"test":"datum.C >= datum.O","value":"#1c1cff"},"value":"#ff00ff"},
  "stroke":{"condition":{"test":"datum.C >= datum.O","value":"#1c1cff"},"value":"#ff00ff"}}},
{"data":{"values":[{}]},
 "encoding":{"x":{"datum":{"year":2004,"month":12,"date":30},"type":"temporal"},"y":{"datum":258.7,"type":"quantitative","axis":null}},
 "layer":[
  {"mark":{"type":"text","text":"$DJUBS - Weekly \u00a0US","align":"left","baseline":"alphabetic","dx":3,"dy":16.7,"font":"Liberation Sans","fontSize":13,"color":"#1616a8"}},
  {"mark":{"type":"text","text":"L=140.343 \u00a01.545 \u00a01.11%","align":"left","baseline":"alphabetic","dx":140,"dy":16.7,"font":"Liberation Sans","fontSize":13,"color":"#22e622"}},
  {"mark":{"type":"text","text":"B=0.000 \u00a0A=0.000","align":"left","baseline":"alphabetic","dx":291,"dy":16.7,"font":"Liberation Sans","fontSize":13,"color":"#ffffff"}},
  {"mark":{"type":"text","text":"O=140.283","align":"left","baseline":"alphabetic","dx":403,"dy":16.7,"font":"Liberation Sans","fontSize":13,"color":"#22e622"}},
  {"mark":{"type":"text","text":"Hi=140.736 \u00a0Lo=139.750 \u00a0V=0","align":"left","baseline":"alphabetic","dx":474,"dy":16.7,"font":"Liberation Sans","fontSize":13,"color":"#ffffff"}}
 ]},
{"data":{"values":[{"v":140.343,"t":"140.343"}]},
 "encoding":{"x":{"datum":{"year":2012,"month":8,"date":27},"type":"temporal"},"y":{"field":"v","type":"quantitative","axis":null}},
 "layer":[
  {"mark":{"type":"point","shape":"M0,-1H8.75V1H0Z","size":256,"filled":true,"color":"#0000ff","opacity":1,"strokeWidth":0}},
  {"mark":{"type":"text","align":"left","baseline":"middle","dx":6,"font":"Liberation Sans","fontSize":13,"color":"#1a1a90"},"encoding":{"text":{"field":"t"}}}
 ]}
]},
{
"width":1267,"height":137,
"view":{"fill":"#000000","stroke":null},
"data":{"name":"w"},
"resolve":{"axis":{"y":"independent"}},
"layer":[
{"mark":{"type":"line","strokeWidth":1,"color":"#ee0000"},
 "encoding":{
  "x":{"field":"d","type":"temporal","scale":{"domain":[{"year":2004,"month":12,"date":30},{"year":2012,"month":8,"date":27}],"range":[0,1197]},
       "axis":{"orient":"bottom","offset":-22,"grid":true,"gridColor":"#383838","tickCount":{"interval":"month","step":3},"labelExpr":"month(datum.value) == 0 && year(datum.value) > 2005 ? timeFormat(datum.value, \"'%y\") : ''","labelColor":"#ffffff","labelFont":"Liberation Sans","labelFontSize":12,"labelOverlap":false,"labelFlush":false,"labelPadding":3,"domainColor":"#e00000","tickColor":"#e00000","tickSize":4,"title":null}},
  "y":{"field":"s","type":"quantitative","scale":{"domain":[210,714.5],"nice":false,"zero":false,"range":[115,0]},
       "axis":{"orient":"right","offset":-70,"values":[300,450],"format":".2f","grid":false,"domainColor":"#e00000","tickColor":"#e00000","tickSize":4,"labelColor":"#ffffff","labelFont":"Liberation Sans","labelFontSize":13,"labelPadding":2,"labelOverlap":false,"title":null}}}},
{"mark":{"type":"line","strokeWidth":0,"opacity":0},
 "encoding":{
  "x":{"field":"d","type":"temporal"},
  "y":{"field":"s","type":"quantitative","axis":{"orient":"right","offset":-70,"values":[250,300,350,400,450,500,550,600,650],"labels":false,"domain":false,"grid":true,"gridColor":"#383838","tickColor":"#e00000","tickSize":4,"title":null}}}},
{"data":{"values":[{}]},
 "encoding":{"x":{"datum":{"year":2004,"month":12,"date":30},"type":"temporal"},"y":{"datum":714.5,"type":"quantitative","axis":null}},
 "layer":[
  {"mark":{"type":"text","text":"Spread - Diff (Close of Data1,Close of Data2,10000000,...","align":"left","baseline":"alphabetic","dx":3,"dy":16.7,"font":"Liberation Sans","fontSize":13,"color":"#ffffff"}},
  {"mark":{"type":"text","text":"600.16","align":"left","baseline":"alphabetic","dx":339,"dy":16.7,"font":"Liberation Sans","fontSize":13,"color":"#e00000"}}
 ]},
{"data":{"values":[{"v":600.16,"t":"600.16"}]},
 "encoding":{"x":{"datum":{"year":2012,"month":8,"date":27},"type":"temporal"},"y":{"field":"v","type":"quantitative","axis":null}},
 "layer":[
  {"mark":{"type":"point","shape":"M0,-1H8.75V1H0Z","size":256,"filled":true,"color":"#ff0000","opacity":1,"strokeWidth":0}},
  {"mark":{"type":"text","align":"left","baseline":"middle","dx":6,"font":"Liberation Sans","fontSize":13,"color":"#8a0000"},"encoding":{"text":{"field":"t"}}}
 ]}
]},
{
"width":1267,"height":20,
"view":{"fill":"#ececec","stroke":"#cfcfcf"},
"data":{"values":[]},
"mark":"point"
}
]
}
